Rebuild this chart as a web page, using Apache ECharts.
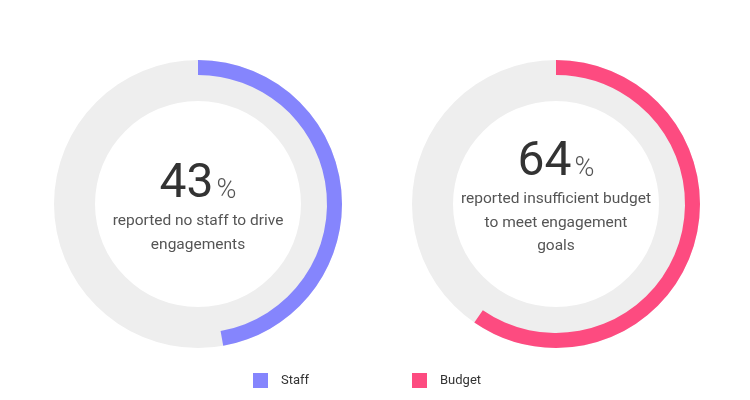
<!DOCTYPE html>
<html>
<head>
<meta charset="utf-8">
<script src="https://cdn.jsdelivr.net/npm/echarts@6/dist/echarts.min.js"></script>
<style>
  html, body { margin: 0; padding: 0; background: #fff; }
  #chart { width: 750px; height: 400px; }
</style>
</head>
<body>
<div id="chart"></div>
<script>
const names = ['Staff', 'Budget']
const percentLabels = ['43', '64']
// arc sweep as it is drawn in the picture (share of the full circle, %)
const arcValues = [47.2, 59.6]
const captions = [
  'reported no staff to drive\nengagements',
  'reported insufficient budget\nto meet engagement\ngoals'
]
const colors = ['#8585fd', '#fd4b80']

const centers = [[198, 204], [556, 204]]
const numberY = [185, 163]
const captionY = [233, 223]

const chart = echarts.init(document.getElementById('chart'))
const font = 'Roboto, "Noto Sans", sans-serif'

const series = []
names.forEach((name, i) => {
  // grey track
  series.push({
    type: 'pie',
    silent: true,
    center: centers[i],
    radius: [103, 144],
    label: { show: false },
    labelLine: { show: false },
    itemStyle: { color: '#eeeeee' },
    data: [{ name: 'track' + i, value: 100 }],
  })
  // coloured arc
  series.push({
    type: 'pie',
    silent: true,
    center: centers[i],
    radius: [129, 144],
    startAngle: 90,
    clockwise: true,
    label: { show: false },
    labelLine: { show: false },
    data: [
      { name: name, value: arcValues[i], itemStyle: { color: colors[i] } },
      { name: 'rest' + i, value: 100 - arcValues[i], itemStyle: { color: 'rgba(0,0,0,0)' } },
    ],
  })
})

const graphic = []
names.forEach((name, i) => {
  graphic.push({
    type: 'text',
    style: {
      x: centers[i][0],
      y: numberY[i],
      text: '{n|' + percentLabels[i] + '}{p|%}',
      align: 'center',
      verticalAlign: 'middle',
      rich: {
        n: { fontFamily: font, fontSize: 48, fontWeight: 400, fill: '#333333', padding: [0, 3, 0, 0] },
        p: { fontFamily: font, fontSize: 27, fontWeight: 300, fill: '#555555', padding: [12, 0, 0, 0] },
      },
    },
  })
  graphic.push({
    type: 'text',
    style: {
      x: centers[i][0],
      y: captionY[i],
      text: captions[i],
      align: 'center',
      verticalAlign: 'middle',
      fontFamily: font,
      fontSize: 15.5,
      fontWeight: 400,
      lineHeight: 23.5,
      fill: '#555555',
    },
  })
})

const legendBase = {
  icon: 'rect', itemWidth: 15, itemHeight: 15,
  selectedMode: false,
  padding: 0,
  textStyle: { fontFamily: font, fontSize: 13, color: '#333', padding: [0, 0, 0, 8] },
}

const option = {
  animation: false,
  legend: [
    Object.assign({ data: [names[0]], left: 253, top: 373 }, legendBase),
    Object.assign({ data: [names[1]], left: 412, top: 373 }, legendBase),
  ],
  series: series,
  graphic: graphic,
}

chart.setOption(option)
</script>
</body>
</html>
